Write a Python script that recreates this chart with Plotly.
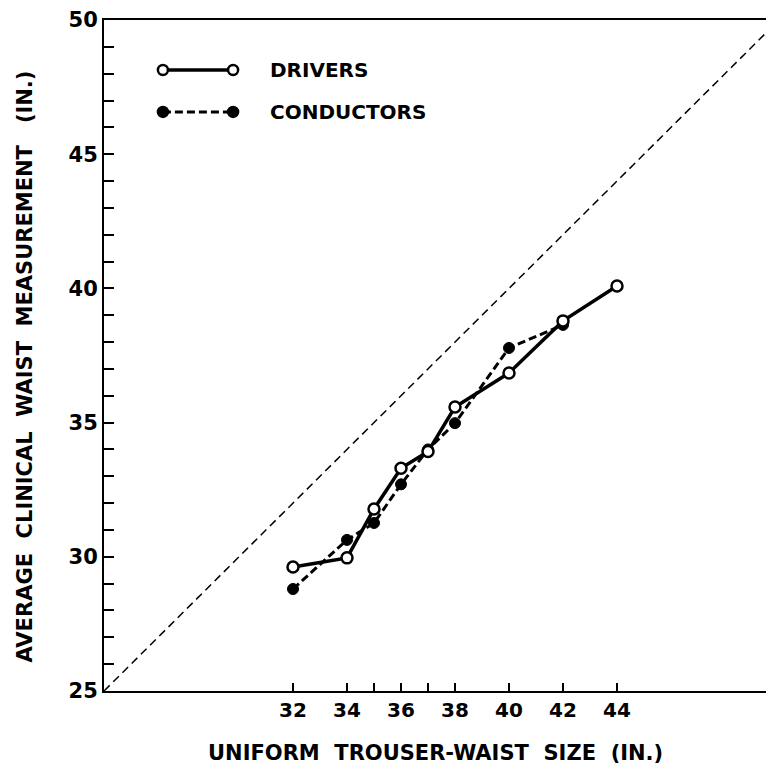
import plotly.graph_objects as go

# ---- data ----
sizes_drivers = [32, 34, 35, 36, 37, 38, 40, 42, 44]
drivers = [29.62, 29.96, 31.78, 33.30, 33.92, 35.58, 36.85, 38.79, 40.09]

sizes_conductors = [32, 34, 35, 36, 37, 38, 40, 42]
conductors = [28.80, 30.63, 31.26, 32.70, 34.00, 34.98, 37.78, 38.64]

identity = [25, 50]  # line of equality

x_tickvals = [32, 34, 35, 36, 37, 38, 40, 42, 44]
x_ticktext = ["32", "34", "", "36", "", "38", "40", "42", "44"]
y_tickvals = [25, 30, 35, 40, 45, 50]

FONT = "DejaVu Sans"

fig = go.Figure()

fig.add_trace(go.Scatter(
    x=identity, y=identity, mode="lines",
    line=dict(color="black", width=1.5, dash="8px,5px"),
    showlegend=False, hoverinfo="skip"))

fig.add_trace(go.Scatter(
    x=sizes_conductors, y=conductors, mode="lines+markers",
    name="CONDUCTORS",
    line=dict(color="black", width=3, dash="8px,4px"),
    marker=dict(symbol="circle", size=11, color="black",
                line=dict(color="black", width=1)),
    showlegend=False))

fig.add_trace(go.Scatter(
    x=sizes_drivers, y=drivers, mode="lines+markers",
    name="DRIVERS",
    line=dict(color="black", width=3.5),
    marker=dict(symbol="circle", size=11, color="white",
                line=dict(color="black", width=2.5)),
    showlegend=False))

# ---- hand-drawn style legend (paper coordinates) ----
leg_x0, leg_x1, leg_text_x = 0.089, 0.195, 0.248
leg_rows = [("DRIVERS", 0.9255, "solid", "white"),
            ("CONDUCTORS", 0.863, "8px,4px", "black")]
shapes = []
annotations = []
for label, yy, dash, fill in leg_rows:
    shapes.append(dict(type="line", xref="paper", yref="paper",
                       x0=leg_x0, x1=leg_x1, y0=yy, y1=yy,
                       line=dict(color="black", width=3.5 if dash == "solid" else 3,
                                 dash=dash)))
    for xa in (leg_x0, leg_x1):
        shapes.append(dict(type="circle", xref="paper", yref="paper",
                           xsizemode="pixel", ysizemode="pixel",
                           xanchor=xa, yanchor=yy,
                           x0=-5, x1=5, y0=-5, y1=5,
                           fillcolor=fill,
                           line=dict(color="black", width=2.5)))
    annotations.append(dict(xref="paper", yref="paper", x=leg_text_x, y=yy,
                            xanchor="left", yanchor="middle", showarrow=False,
                            text=label,
                            font=dict(family=FONT, size=20, color="black",
                                      weight="bold")))

# axis titles as annotations for precise placement
annotations.append(dict(xref="paper", yref="paper", x=0.5, y=-0.0924,
                        xanchor="center", yanchor="middle", showarrow=False,
                        text="UNIFORM  TROUSER-WAIST  SIZE  (IN.)",
                        font=dict(family=FONT, size=21, color="black",
                                  weight="bold")))
annotations.append(dict(xref="paper", yref="paper", x=-0.119, y=0.484,
                        xanchor="center", yanchor="middle", showarrow=False,
                        textangle=-90,
                        text="AVERAGE  CLINICAL  WAIST  MEASUREMENT   (IN.)",
                        font=dict(family=FONT, size=21, color="black",
                                  weight="bold")))

fig.update_layout(
    width=766, height=766, autosize=False,
    margin=dict(l=104, r=0, t=20, b=75),
    paper_bgcolor="white", plot_bgcolor="white",
    shapes=shapes, annotations=annotations,
    font=dict(family=FONT, color="black"),
)

fig.update_xaxes(
    range=[25, 25 + 662 / 27.0],
    showgrid=False, zeroline=False,
    showline=True, linecolor="black", linewidth=2, mirror=True,
    ticks="inside", ticklen=8, tickwidth=1.5, tickcolor="black",
    tickvals=x_tickvals, ticktext=x_ticktext,
    tickfont=dict(family=FONT, size=20, color="black", weight="bold"),
)

fig.update_yaxes(
    range=[25, 50],
    showgrid=False, zeroline=False,
    showline=True, linecolor="black", linewidth=2,
    ticks="inside", ticklen=10, tickwidth=1.5, tickcolor="black",
    tickvals=y_tickvals,
    minor=dict(dtick=1, ticks="inside", ticklen=10, tickwidth=1.5,
               tickcolor="black", showgrid=False),
    tickfont=dict(family=FONT, size=21, color="black", weight="bold"),
)

fig.write_html("out.html")
